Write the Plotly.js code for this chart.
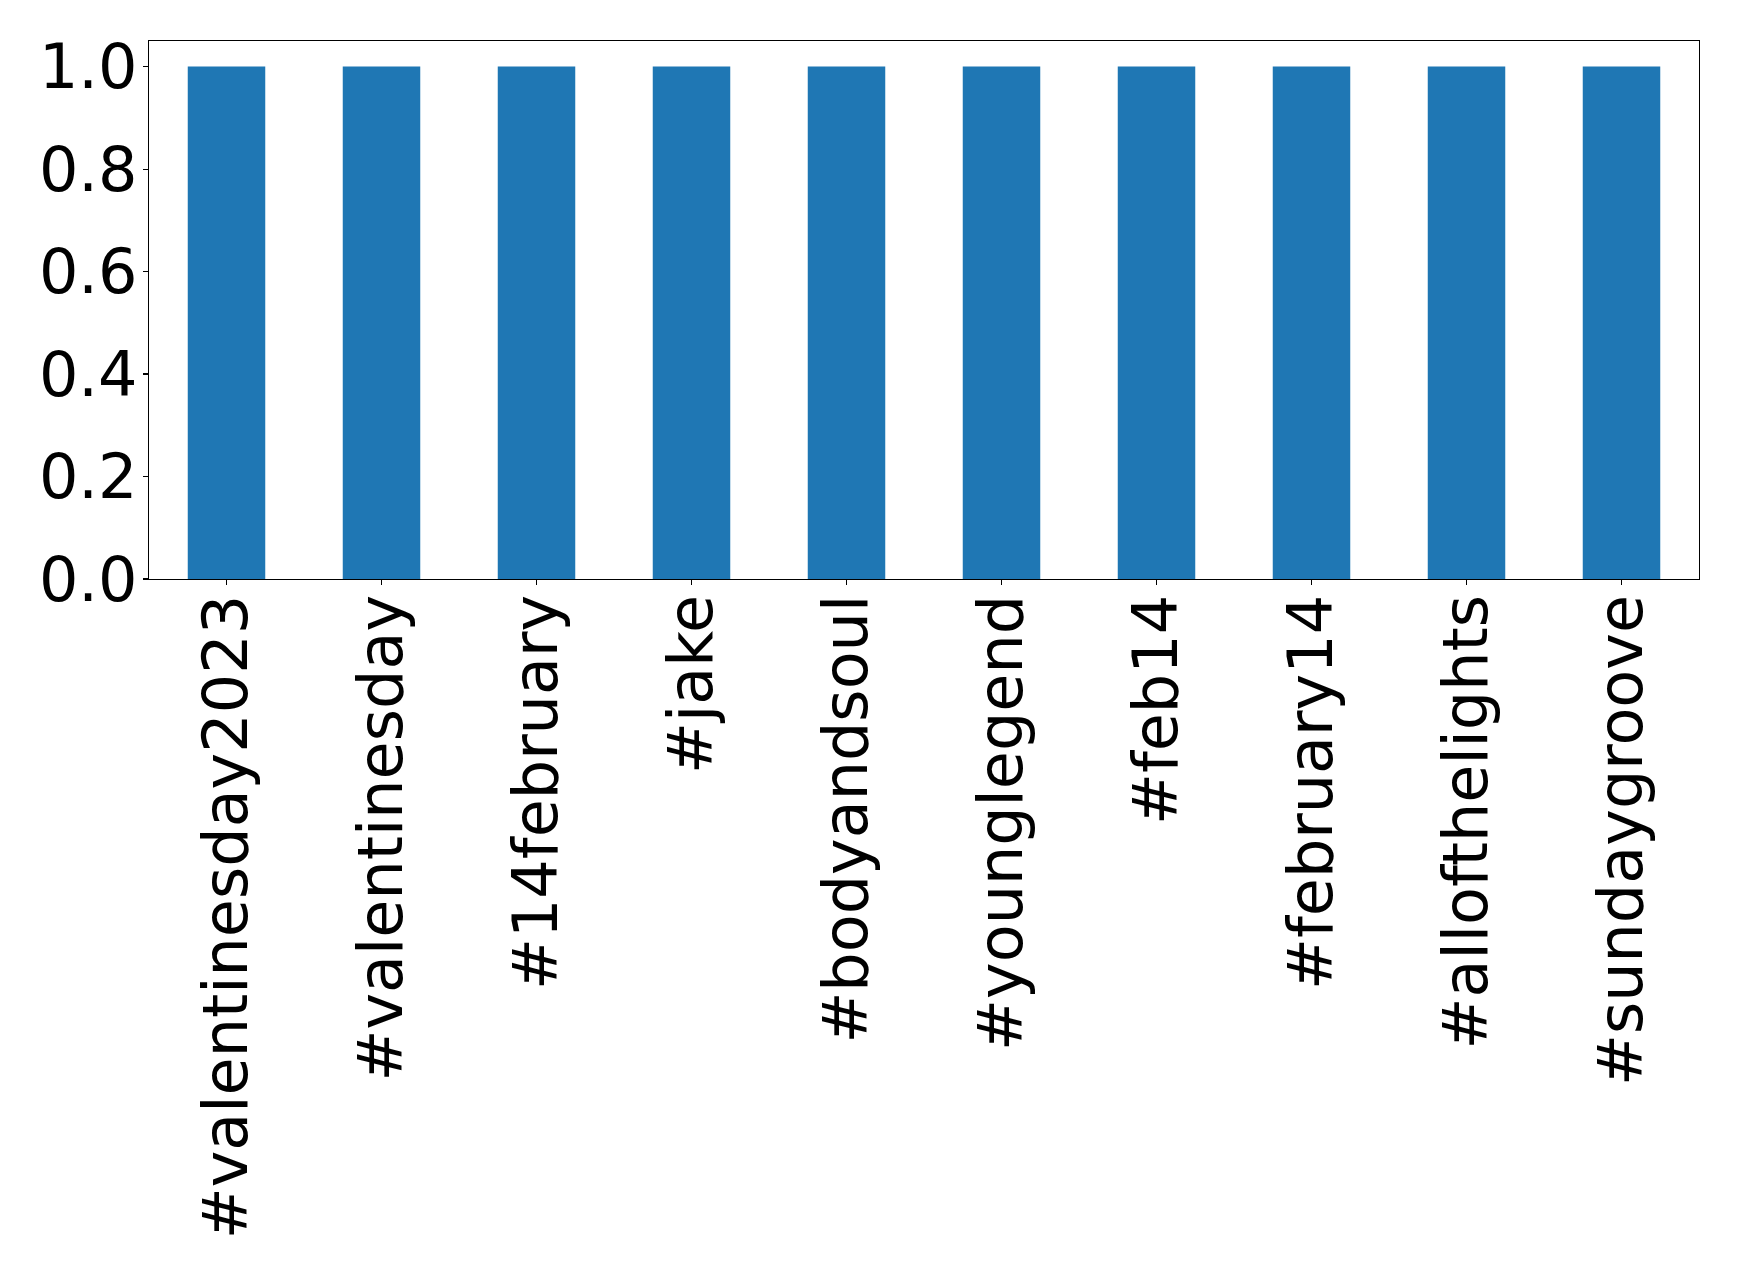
<!DOCTYPE html>
<html>
<head>
<meta charset="utf-8">
<script src="https://cdn.plot.ly/plotly-3.0.1.min.js"></script>
<style>html,body{margin:0;padding:0;background:#fff;}#chart{width:1739px;height:1278px;}</style>
</head>
<body>
<div id="chart"></div>
<script>
const categories = ["#valentinesday2023", "#valentinesday", "#14february", "#jake", "#bodyandsoul", "#younglegend", "#feb14", "#february14", "#allofthelights", "#sundaygroove"];
const counts = [1, 1, 1, 1, 1, 1, 1, 1, 1, 1];
const yTickVals = [0, 0.2, 0.4, 0.6, 0.8, 1.0];

const trace = {
  type: 'bar',
  x: categories,
  y: counts,
  width: 0.5,
  marker: {color: '#1f77b4', line: {width: 0}},
  hoverinfo: 'x+y'
};

const layout = {
  width: 1739,
  height: 1278,
  margin: {l: 149, r: 40, t: 41, b: 699, pad: 0},
  paper_bgcolor: '#ffffff',
  plot_bgcolor: '#ffffff',
  showlegend: false,
  font: {family: 'DejaVu Sans', size: 62, color: '#000000'},
  xaxis: {
    type: 'category',
    range: [-0.5, 9.5],
    tickangle: -90,
    ticks: 'outside',
    ticklen: 5,
    tickwidth: 1.1,
    tickcolor: '#000',
    showline: true,
    linecolor: '#000',
    linewidth: 1.1,
    mirror: true,
    showgrid: false,
    zeroline: false,
    tickfont: {family: 'DejaVu Sans', size: 62, color: '#000'},
    ticklabelstandoff: -15
  },
  yaxis: {
    range: [0, 1.05],
    tickvals: yTickVals,
    tickformat: '.1f',
    ticks: 'outside',
    ticklen: 5,
    tickwidth: 1.1,
    tickcolor: '#000',
    showline: true,
    linecolor: '#000',
    linewidth: 1.1,
    mirror: true,
    showgrid: false,
    zeroline: false,
    tickfont: {family: 'DejaVu Sans', size: 62, color: '#000'},
    ticklabelstandoff: -7
  },
  bargap: 0.5
};

Plotly.newPlot('chart', [trace], layout, {displayModeBar: false, staticPlot: true});
</script>
</body>
</html>
